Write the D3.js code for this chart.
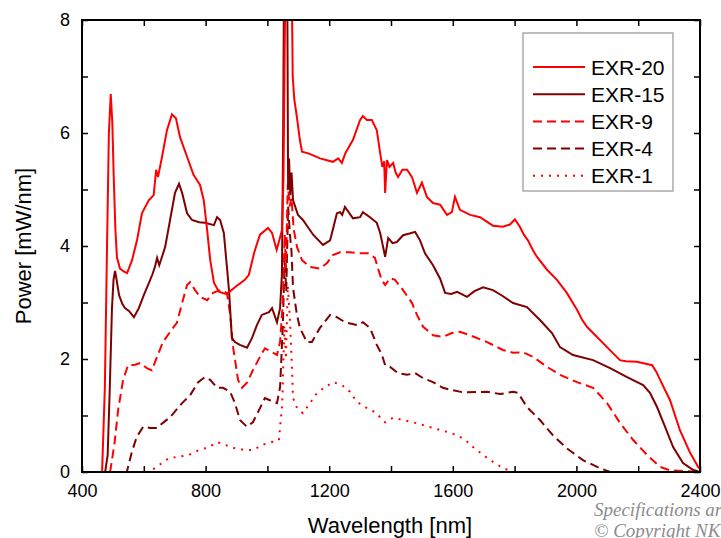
<!DOCTYPE html>
<html lang="en">
<head>
    <meta charset="UTF-8">
    <title>EXR supercontinuum spectra</title>
    <script src="https://d3js.org/d3.v7.min.js" charset="utf-8"></script>
    <style>
        body { margin: 0; background: white; }
        svg { background: white; display: block; }
        text { font-family: 'Liberation Sans', Arial, sans-serif; }
    </style>
</head>
<body>
<div id="chart"></div>
<script>
// Spectra: [wavelength nm, power mW/nm]
var exr20 = [[400,0],[465,0],[474,1.5],[481,4.0],[487,6.0],[493,6.69],[498,6.2],[503,5.17],[508,4.3],[513,3.8],[523,3.6],[535,3.55],[546,3.52],[562,3.75],[578,4.1],[594,4.58],[616,4.81],[632,4.9],[640,5.35],[646,5.22],[659,5.58],[675,6.05],[691,6.33],[704,6.26],[717,5.93],[740,5.58],[761,5.26],[782,5.08],[794,4.81],[805,4.28],[815,3.75],[827,3.35],[843,3.19],[865,3.15],[875,3.18],[895,3.27],[927,3.4],[940,3.49],[958,3.9],[976,4.2],[1002,4.32],[1015,4.23],[1030,3.93],[1047,4.28],[1052,5.2],[1056,7.5],[1059,9],[1078,9],[1082,7.0],[1087,6.6],[1095,6.3],[1105,5.88],[1112,5.67],[1132,5.64],[1150,5.6],[1170,5.55],[1212,5.49],[1229,5.55],[1241,5.47],[1252,5.64],[1277,5.88],[1300,6.23],[1309,6.3],[1322,6.23],[1338,6.23],[1354,6.05],[1365,5.64],[1372,5.4],[1378,5.5],[1381,4.94],[1387,5.52],[1395,5.4],[1407,5.47],[1415,5.3],[1423,5.22],[1437,5.35],[1452,5.35],[1468,5.22],[1484,4.94],[1500,5.12],[1516,4.87],[1536,4.76],[1559,4.73],[1581,4.55],[1597,4.6],[1607,4.87],[1623,4.64],[1656,4.55],[1688,4.51],[1730,4.36],[1762,4.34],[1785,4.38],[1801,4.47],[1817,4.34],[1830,4.2],[1843,4.1],[1859,3.93],[1872,3.81],[1905,3.58],[1937,3.4],[1969,3.17],[2002,2.87],[2018,2.7],[2034,2.57],[2054,2.46],[2099,2.21],[2141,1.98],[2160,1.96],[2196,1.95],[2245,1.89],[2258,1.78],[2271,1.63],[2303,1.27],[2335,0.74],[2368,0.34],[2394,0.09],[2400,0.05]];

var exr15 = [[400,0],[475,0],[483,0.3],[490,1.5],[497,2.9],[502,3.4],[507,3.56],[512,3.4],[520,3.13],[530,2.98],[539,2.9],[552,2.85],[568,2.74],[584,2.9],[600,3.13],[617,3.35],[628,3.5],[636,3.63],[643,3.79],[650,3.66],[669,3.98],[685,4.46],[701,4.94],[714,5.1],[724,4.94],[740,4.58],[756,4.46],[779,4.42],[798,4.41],[827,4.37],[837,4.51],[847,4.46],[859,4.23],[869,3.63],[876,3.2],[885,2.37],[895,2.3],[911,2.25],[934,2.2],[950,2.37],[966,2.6],[982,2.78],[1005,2.83],[1015,2.9],[1031,2.65],[1041,2.9],[1047,3.5],[1051,6],[1054,9],[1064,9],[1067,5.0],[1070,5.55],[1074,4.9],[1078,5.3],[1083,4.81],[1099,4.55],[1115,4.46],[1148,4.2],[1180,4.02],[1203,4.1],[1225,4.58],[1235,4.6],[1242,4.55],[1251,4.69],[1277,4.49],[1300,4.51],[1309,4.6],[1332,4.51],[1354,4.41],[1365,4.23],[1381,3.81],[1391,4.14],[1405,4.05],[1419,4.07],[1439,4.19],[1460,4.22],[1478,4.25],[1494,4.1],[1510,3.87],[1536,3.66],[1559,3.42],[1575,3.17],[1595,3.15],[1614,3.19],[1646,3.1],[1670,3.2],[1698,3.27],[1730,3.22],[1760,3.12],[1795,2.99],[1840,2.92],[1882,2.69],[1921,2.46],[1947,2.21],[1989,2.07],[2054,1.98],[2109,1.84],[2164,1.68],[2216,1.54],[2238,1.4],[2261,1.15],[2287,0.8],[2313,0.44],[2345,0.16],[2377,0.04],[2400,0]];

var exr9 = [[400,0],[491,0],[505,0.5],[517,1.1],[533,1.63],[549,1.89],[572,1.9],[588,1.93],[610,1.84],[626,1.8],[643,2.04],[662,2.3],[685,2.48],[707,2.64],[724,2.99],[740,3.31],[750,3.36],[766,3.22],[782,3.1],[805,3.04],[824,3.17],[847,3.22],[869,3.17],[879,2.81],[889,2.21],[905,1.63],[918,1.49],[934,1.58],[953,1.8],[976,2.04],[992,2.19],[1015,2.12],[1031,2.07],[1041,2.3],[1050,3.0],[1056,4.2],[1060,3.6],[1066,5.1],[1072,4.7],[1078,4.85],[1085,4.3],[1096,3.98],[1112,3.75],[1138,3.63],[1170,3.6],[1193,3.7],[1212,3.84],[1235,3.89],[1267,3.89],[1300,3.87],[1326,3.87],[1348,3.79],[1358,3.6],[1370,3.4],[1381,3.31],[1397,3.43],[1413,3.4],[1439,3.22],[1468,2.99],[1484,2.78],[1504,2.57],[1536,2.42],[1568,2.39],[1597,2.46],[1623,2.48],[1656,2.42],[1711,2.3],[1762,2.16],[1795,2.11],[1827,2.12],[1859,2.04],[1905,1.86],[1947,1.72],[2002,1.59],[2054,1.49],[2099,1.22],[2141,0.87],[2183,0.57],[2229,0.3],[2271,0.09],[2303,0.03],[2400,0]];

var exr4 = [[400,0],[545,0],[561,0.35],[577,0.62],[598,0.8],[620,0.78],[643,0.78],[662,0.87],[685,0.97],[724,1.22],[750,1.36],[776,1.59],[798,1.68],[815,1.63],[837,1.49],[856,1.49],[879,1.42],[895,1.22],[911,0.92],[934,0.8],[953,0.88],[976,1.13],[992,1.31],[1008,1.27],[1031,1.22],[1041,1.5],[1050,2.6],[1056,3.8],[1061,3.2],[1067,4.7],[1073,4.2],[1078,3.9],[1083,3.26],[1095,2.8],[1105,2.55],[1128,2.3],[1144,2.3],[1170,2.55],[1203,2.78],[1225,2.74],[1251,2.65],[1290,2.6],[1309,2.65],[1332,2.55],[1354,2.25],[1371,2.07],[1381,1.89],[1397,1.86],[1423,1.75],[1452,1.72],[1478,1.75],[1504,1.66],[1536,1.59],[1568,1.49],[1597,1.45],[1633,1.41],[1711,1.42],[1753,1.38],[1795,1.42],[1811,1.4],[1840,1.15],[1882,0.92],[1924,0.65],[1969,0.42],[2021,0.21],[2067,0.09],[2109,0],[2400,0]];

var exr1 = [[400,0],[617,0],[649,0.12],[682,0.25],[714,0.27],[746,0.3],[779,0.39],[811,0.44],[837,0.53],[863,0.48],[895,0.42],[927,0.39],[956,0.39],[982,0.48],[1015,0.53],[1037,0.56],[1048,1.2],[1055,2.6],[1060,2.0],[1066,3.3],[1072,2.8],[1077,2.2],[1083,1.31],[1096,1.13],[1115,1.04],[1138,1.22],[1161,1.4],[1186,1.5],[1212,1.59],[1241,1.54],[1267,1.42],[1290,1.24],[1322,1.13],[1348,1.06],[1381,0.88],[1407,0.96],[1439,0.92],[1471,0.88],[1504,0.83],[1536,0.78],[1581,0.71],[1614,0.65],[1640,0.57],[1666,0.44],[1698,0.3],[1730,0.18],[1762,0.07],[1795,0],[2400,0]];

var seriesNames = ['EXR-20', 'EXR-15', 'EXR-9', 'EXR-4', 'EXR-1'];
var seriesData = [exr20, exr15, exr9, exr4, exr1];
var xTickLabels = [400, 800, 1200, 1600, 2000, 2400];
var yTickLabels = [0, 2, 4, 6, 8];

// styles per series
var colors = ['#ff0000', '#800000', '#ff0000', '#800000', '#ff0000'];
var dashes = [null, null, '9,5', '9,5', '2,6'];

var svgWidth = 721, svgHeight = 538;
var plotLeft = 82, plotRight = 700, plotTop = 20, plotBottom = 472;

var svg = d3.select('#chart').append('svg')
    .attr('width', svgWidth)
    .attr('height', svgHeight);

var x = d3.scaleLinear().domain([400, 2400]).range([plotLeft, plotRight]);
var y = d3.scaleLinear().domain([0, 8]).range([plotBottom, plotTop]);

// clip so the spikes at 1064 nm stop at the frame
svg.append('clipPath').attr('id', 'plotclip')
    .append('rect')
    .attr('x', plotLeft).attr('y', plotTop)
    .attr('width', plotRight - plotLeft).attr('height', plotBottom - plotTop);

var line = d3.line()
    .x(d => x(d[0]))
    .y(d => y(d[1]));

var plot = svg.append('g').attr('clip-path', 'url(#plotclip)');

// draw the weakest first so the strong curves sit on top
for (var i = seriesData.length - 1; i >= 0; i--) {
    plot.append('path')
        .datum(seriesData[i])
        .attr('d', line)
        .attr('fill', 'none')
        .attr('stroke', colors[i])
        .attr('stroke-width', 2)
        .attr('stroke-dasharray', dashes[i]);
}

// Axes: ticks point inward on all four sides
var tickLen = 6;
var xAxisB = d3.axisBottom(x).tickValues(d3.range(400, 2401, 200))
    .tickSize(-tickLen).tickPadding(12)
    .tickFormat(d => xTickLabels.indexOf(d) >= 0 ? d : '');
var xAxisT = d3.axisTop(x).tickValues(d3.range(400, 2401, 200))
    .tickSize(-tickLen).tickFormat('');
var yAxisL = d3.axisLeft(y).tickValues(d3.range(0, 9, 1))
    .tickSize(-tickLen).tickPadding(12)
    .tickFormat(d => yTickLabels.indexOf(d) >= 0 ? d : '');
var yAxisR = d3.axisRight(y).tickValues(d3.range(0, 9, 1))
    .tickSize(-tickLen).tickFormat('');

function styleAxis(g) {
    g.select('.domain').remove();
    g.attr('font-size', null).attr('font-family', null);
    g.selectAll('.tick line').attr('stroke', '#000').attr('stroke-width', 1.5);
    g.selectAll('.tick text')
        .style('font-family', "'Liberation Sans', Arial, sans-serif")
        .style('font-size', '18px')
        .attr('fill', '#000');
}

svg.append('g').attr('transform', 'translate(0,' + plotBottom + ')').call(xAxisB).call(styleAxis);
svg.append('g').attr('transform', 'translate(0,' + plotTop + ')').call(xAxisT).call(styleAxis);
svg.append('g').attr('transform', 'translate(' + plotLeft + ',0)').call(yAxisL).call(styleAxis);
svg.append('g').attr('transform', 'translate(' + plotRight + ',0)').call(yAxisR).call(styleAxis);

// frame
svg.append('rect')
    .attr('x', plotLeft).attr('y', plotTop)
    .attr('width', plotRight - plotLeft).attr('height', plotBottom - plotTop)
    .attr('fill', 'none')
    .attr('stroke', '#000')
    .attr('stroke-width', 2);

// axis titles
svg.append('text')
    .attr('x', 390).attr('y', 533)
    .attr('text-anchor', 'middle')
    .style('font-size', '22px')
    .text('Wavelength [nm]');

svg.append('text')
    .attr('transform', 'translate(31,' + ((plotTop + plotBottom) / 2) + ') rotate(-90)')
    .attr('text-anchor', 'middle')
    .style('font-size', '22px')
    .text('Power [mW/nm]');

// legend
var legend = svg.append('g');
legend.append('rect')
    .attr('x', 523).attr('y', 33)
    .attr('width', 150).attr('height', 158)
    .attr('fill', 'white')
    .attr('stroke', '#808080')
    .attr('stroke-width', 1);

seriesNames.forEach(function(name, i) {
    var ly = 67 + i * 27.2;
    legend.append('line')
        .attr('x1', 533).attr('x2', 585)
        .attr('y1', ly).attr('y2', ly)
        .attr('stroke', colors[i])
        .attr('stroke-width', 2)
        .attr('stroke-dasharray', dashes[i]);
    legend.append('text')
        .attr('x', 591).attr('y', ly + 7.5)
        .style('font-size', '21px')
        .text(name);
});

// watermark at bottom right, cut by the window edge as in the original
svg.append('text')
    .attr('x', 594).attr('y', 516)
    .style('font-family', "'Liberation Serif', 'Times New Roman', serif")
    .style('font-style', 'italic')
    .style('font-size', '19px')
    .attr('fill', '#8c8c8c')
    .text('Specifications are subject to change');
svg.append('text')
    .attr('x', 594).attr('y', 537)
    .style('font-family', "'Liberation Serif', 'Times New Roman', serif")
    .style('font-style', 'italic')
    .style('font-size', '19px')
    .attr('fill', '#8c8c8c')
    .text('\u00A9 Copyright NKT Photonics');
</script>
</body>
</html>
